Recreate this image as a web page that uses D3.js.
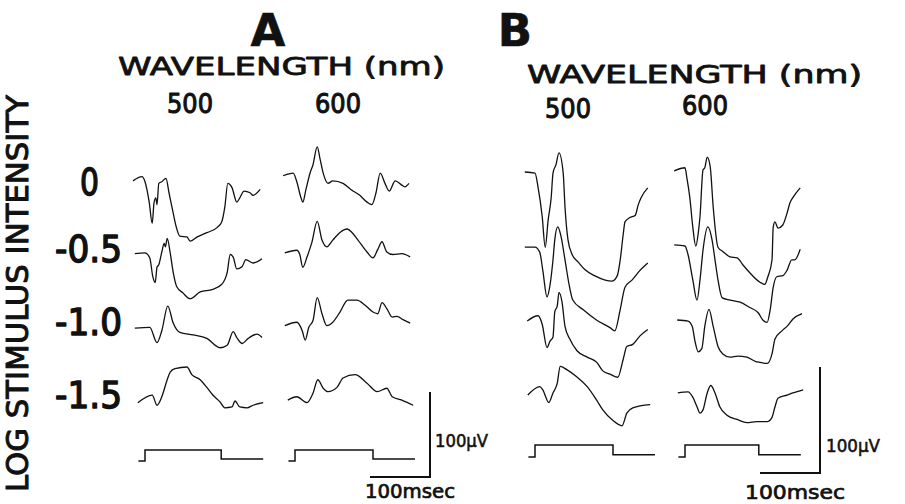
<!DOCTYPE html>
<html><head><meta charset="utf-8">
<script src="https://cdn.jsdelivr.net/npm/d3@7"></script>
<style>body{margin:0;background:#fff}svg{display:block}</style>
</head><body>
<svg id="c" width="905" height="504"></svg>
<script>
// ---------- DATA (time in ms from stimulus onset, amplitude in µV) ----------
const panels = ["A", "B"];
const wavelengths = ["500", "600"];
const logIntensity = [0, -0.5, -1.0, -1.5];
const intensityLabels = ["0", "-0.5", "-1.0", "-1.5"];
const stimDurationA = [127, 130];
const stimDurationB = [130, 123];
const stimLevels = [0, 1, 0.18]; // before, during, after

const tracesA500 = [
  [[-20,-1],[-5,4],[0,-2],[7,-26],[12,-51],[15,-27],[18,-21],[20,-29],[23,-4],[28,-2],[35,2],[40,-15],[47,-39],[52,-55],[58,-66],[70,-67],[75,-72],[87,-67],[103,-62],[120,-56],[128,-49],[133,-32],[138,-4],[145,-9],[153,-26],[158,-21],[165,-13],[175,-15],[180,-18],[192,-11]],
  [[-17,0],[0,1],[8,-5],[13,-27],[17,-34],[20,-16],[23,-13],[28,2],[32,12],[34,8],[37,18],[42,1],[47,-22],[53,-39],[63,-46],[75,-53],[92,-45],[113,-42],[128,-36],[137,-22],[142,-1],[147,-4],[153,-18],[162,-15],[168,-7],[180,-11],[195,-6]],
  [[-17,-1],[8,0],[20,-18],[28,-4],[38,25],[47,5],[58,-6],[80,-9],[103,-13],[125,-24],[137,-21],[147,-5],[153,-12],[162,-19],[172,-13],[187,-8],[195,-12]],
  [[-12,-2],[12,7],[20,-5],[28,5],[37,25],[42,34],[50,38],[70,40],[78,31],[92,25],[103,16],[113,7],[125,-1],[133,-8],[145,-7],[150,0],[158,-7],[170,-8],[180,-5],[197,-2]]
];
const tracesA600 = [
  [[-20,5],[-3,8],[3,-2],[10,-21],[13,-26],[18,-12],[25,8],[30,18],[37,39],[42,24],[47,8],[55,-4],[63,-1],[80,-4],[95,-12],[108,-18],[120,-26],[128,-29],[135,-15],[142,8],[150,-4],[157,-13],[167,-1],[178,-6],[183,-8],[190,-4]],
  [[-17,1],[3,4],[8,-1],[13,-16],[20,-4],[28,13],[37,38],[45,16],[53,8],[63,16],[75,25],[87,29],[95,25],[105,16],[120,2],[130,-5],[138,5],[145,14],[153,2],[163,-1],[178,0],[192,-4]],
  [[-17,2],[3,6],[12,-4],[17,-15],[23,0],[30,8],[37,35],[45,16],[53,2],[63,6],[75,18],[88,32],[103,32],[117,26],[130,18],[138,16],[145,29],[153,22],[162,12],[170,13],[180,9],[192,5]],
  [[-12,1],[3,5],[20,-2],[30,9],[38,25],[47,15],[55,11],[70,16],[80,27],[100,31],[120,21],[137,11],[153,15],[162,5],[178,1],[197,-5]]
];
const tracesB500 = [
  [[-17,0],[0,-1],[5,-14],[12,-42],[17,-71],[22,-45],[27,-24],[30,-1],[35,7],[40,18],[47,-1],[50,-33],[55,-64],[62,-78],[72,-85],[83,-92],[100,-98],[117,-102],[128,-103],[137,-98],[142,-83],[147,-59],[150,-47],[158,-43],[167,-41],[172,-31],[177,-24],[188,-15]],
  [[-17,-1],[0,-1],[8,-6],[13,-23],[20,-48],[25,-37],[30,-13],[33,6],[38,18],[43,10],[50,-13],[57,-37],[63,-51],[80,-60],[103,-70],[125,-77],[133,-80],[142,-60],[150,-39],[162,-32],[175,-23],[188,-16]],
  [[-13,-1],[5,4],[12,-4],[20,-26],[25,-20],[30,-16],[33,8],[37,13],[40,26],[45,17],[50,-6],[58,-18],[70,-29],[87,-35],[103,-40],[113,-48],[125,-51],[138,-54],[147,-37],[153,-25],[163,-23],[175,-15],[188,-9]],
  [[-12,-1],[8,7],[13,4],[23,-8],[30,1],[37,10],[42,26],[53,23],[70,16],[87,7],[103,-6],[113,-15],[130,-25],[145,-30],[153,-18],[163,-13],[192,-10]]
];
const tracesB600 = [
  [[-18,1],[0,4],[3,-5],[8,-24],[13,-52],[18,-70],[22,-58],[25,-42],[30,2],[33,4],[37,14],[42,5],[47,-33],[55,-71],[63,-75],[75,-80],[87,-81],[97,-88],[108,-95],[125,-104],[133,-106],[138,-99],[145,-83],[147,-52],[150,-47],[155,-53],[163,-50],[170,-39],[175,-29],[180,-24],[192,-15]],
  [[-18,1],[0,0],[5,-8],[13,-32],[20,-51],[25,-32],[30,-4],[38,18],[45,6],[50,-13],[55,-32],[62,-49],[75,-51],[92,-53],[108,-58],[122,-63],[130,-70],[137,-72],[142,-60],[147,-39],[153,-29],[163,-28],[170,-23],[178,-13],[183,-13],[192,-3]],
  [[-13,0],[5,-1],[12,-6],[17,-21],[22,-30],[28,-27],[33,-6],[40,10],[47,-6],[55,-25],[63,-32],[75,-35],[88,-34],[103,-35],[117,-39],[125,-40],[137,-41],[145,-32],[150,-18],[162,-10],[170,-6],[180,1],[195,6]],
  [[-12,1],[5,2],[13,-3],[20,-12],[25,-18],[30,-15],[37,1],[43,8],[50,1],[58,-12],[70,-20],[87,-24],[103,-27],[120,-26],[137,-26],[145,-22],[150,-12],[155,-4],[170,-1],[180,1],[197,4]]
];
const scaleBarTime = 100;  // ms
const scaleBarVolt = 100;  // µV

// ---------- LAYOUT ----------
const svg = d3.select("#c");
svg.append("rect").attr("width", 905).attr("height", 504).attr("fill", "#fff");
const FONT = "'DejaVu Sans', 'Liberation Sans', sans-serif";

function label(sel, txt, x, y, size, w, sw) {
  const t = sel.append("text").text(txt).attr("x", x).attr("y", y)
    .attr("font-family", FONT).attr("font-size", size).attr("fill", "#111")
    .attr("stroke", "#111").attr("stroke-width", sw).attr("stroke-linejoin", "round");
  if (w) t.attr("textLength", w).attr("lengthAdjust", "spacingAndGlyphs");
  return t;
}

const layout = [
  { title: "A", titleX: 268, wlX: 118, wlY: 75, wlW: 327,
    cols: [{ onset: 145, traces: tracesA500, dur: stimDurationA[0], labX: 167, labY: 113 },
           { onset: 295, traces: tracesA600, dur: stimDurationA[1], labX: 315, labY: 113 }],
    rows: [180, 401], ampPx: 85, stimY: 461, stimPx: 11, barBase: 477,
    uvX: 435, uvY: 447, uvW: 53, msX: 365, msY: 498, msW: 90 },
  { title: "B", titleX: 515, wlX: 527, wlY: 83, wlW: 335,
    cols: [{ onset: 535, traces: tracesB500, dur: stimDurationB[0], labX: 545, labY: 118 },
           { onset: 685, traces: tracesB600, dur: stimDurationB[1], labX: 682, labY: 115 }],
    rows: [172, 394], ampPx: 106, stimY: 457, stimPx: 12, barBase: 473,
    uvX: 826, uvY: 452, uvW: 54, msX: 745, msY: 499, msW: 100 }
];

layout.forEach((p, pi) => {
  const g = svg.append("g");
  const rowY = d3.scaleLinear().domain([logIntensity[0], logIntensity[3]]).range(p.rows);
  const amp = d3.scaleLinear().domain([0, 100]).range([0, -p.ampPx]);
  const stimS = d3.scaleLinear().domain([0, 1]).range([p.stimY, p.stimY - p.stimPx]);

  label(g, panels[pi], p.titleX, 46, 45, null, 0.6).attr("text-anchor", "middle").attr("font-weight", "bold");
  label(g, "WAVELENGTH (nm)", p.wlX, p.wlY, 25, p.wlW, 0.8);

  p.cols.forEach((c, ci) => {
    const x = d3.scaleLinear().domain([0, 100]).range([c.onset, c.onset + 60]);
    label(g, wavelengths[ci], c.labX, c.labY, 27, 46, 1.1);

    c.traces.forEach((tr, ri) => {
      const base = rowY(logIntensity[ri]);
      const line = d3.line().x(d => x(d[0])).y(d => base + amp(d[1])).curve(d3.curveMonotoneX);
      g.append("path").attr("d", line(tr)).attr("fill", "none")
        .attr("stroke", "#111").attr("stroke-width", 1.3).attr("stroke-linejoin", "round");
    });

    const st = [[-11, stimLevels[0]], [0, stimLevels[0]], [0, stimLevels[1]], [c.dur, stimLevels[1]],
                [c.dur, stimLevels[2]], [c.dur + 70, stimLevels[2]]];
    const sl = d3.line().x(d => x(d[0])).y(d => stimS(d[1]));
    g.append("path").attr("d", sl(st)).attr("fill", "none").attr("stroke", "#111").attr("stroke-width", 1.5);

    if (ci === 1) {
      const t0 = 125, t1 = t0 + scaleBarTime;
      const bar = [[t0, 0], [t1, 0], [t1, scaleBarVolt]];
      const bl = d3.line().x(d => x(d[0])).y(d => p.barBase + amp(d[1]));
      g.append("path").attr("d", bl(bar)).attr("fill", "none").attr("stroke", "#111").attr("stroke-width", 2);
    }
  });

  label(g, "100μV", p.uvX, p.uvY, 18, p.uvW, 0.6);
  label(g, "100msec", p.msX, p.msY, 19, p.msW, 0.7);
});

// intensity labels
const labY = [195, 262, 335, 408];
const labX = [80, 55, 55, 55];
const labW = [19, 67, 67, 67];
intensityLabels.forEach((t, i) => {
  label(svg, t, labX[i], labY[i], 38, labW[i], 1.5);
});

label(svg, "LOG STIMULUS INTENSITY", 0, 0, 30, 397, 1.0)
  .attr("transform", "translate(28,492) rotate(-90)");
</script>
</body></html>
